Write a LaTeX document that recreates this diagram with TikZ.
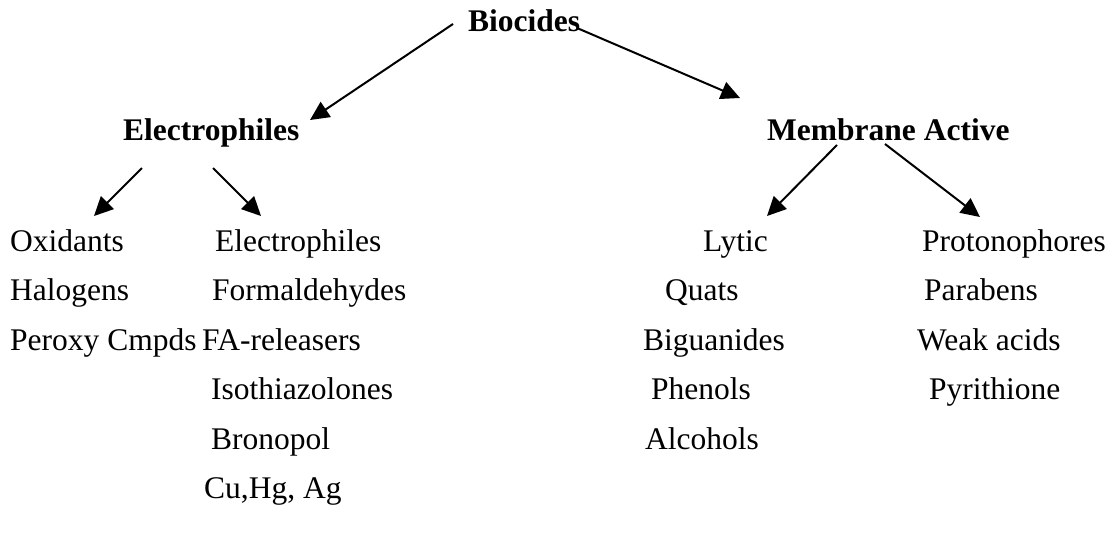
\documentclass[tikz,border=0pt]{standalone}
\usepackage{fontspec}
\setmainfont{Liberation Serif}
\usetikzlibrary{arrows.meta}
\begin{document}
\begin{tikzpicture}[x=1pt,y=-1pt,
  lbl/.style={anchor=base west,inner sep=0pt,font=\fontsize{31.5}{36}\selectfont},
  hdr/.style={anchor=base west,inner sep=0pt,font=\fontsize{31.5}{36}\selectfont\bfseries},
  arr/.style={line width=2pt,-{Triangle[length=19pt,width=18pt]}}]
\useasboundingbox (0,0) rectangle (1114,533);
% headers
\node[hdr] (bio) at (468,31) {Biocides};
\node[hdr] (el) at (123,140) {Electrophiles};
\node[hdr] (ma) at (767,140) {Membrane Active};
% column 1
\node[lbl] (ox) at (10,251) {Oxidants};
\node[lbl] (hal) at (10,300) {Halogens};
\node[lbl] (per) at (10,350) {Peroxy Cmpds};
% column 2
\node[lbl] (el2) at (215,251) {Electrophiles};
\node[lbl] (form) at (212,300) {Formaldehydes};
\node[lbl] (far) at (202,350) {FA-releasers};
\node[lbl] (iso) at (211,399) {Isothiazolones};
\node[lbl] (bro) at (211,449) {Bronopol};
\node[lbl] (cu) at (204,498) {Cu,Hg, Ag};
% column 3
\node[lbl] (ly) at (703,251) {Lytic};
\node[lbl] (qu) at (665,300) {Quats};
\node[lbl] (big) at (643,350) {Biguanides};
\node[lbl] (phe) at (651,399) {Phenols};
\node[lbl] (alc) at (645,449) {Alcohols};
% column 4
\node[lbl] (pro) at (922,251) {Protonophores};
\node[lbl] (par) at (924,300) {Parabens};
\node[lbl] (wea) at (917,350) {Weak acids};
\node[lbl] (pyr) at (929,399) {Pyrithione};
% arrow end points
\coordinate (s1) at (453,24);  \coordinate (t1) at (310,120);
\coordinate (s2) at (577,28);  \coordinate (t2) at (740,98);
\coordinate (s3) at (142,168); \coordinate (t3) at (94,216);
\coordinate (s4) at (213,168); \coordinate (t4) at (261,216);
\coordinate (s5) at (837,145); \coordinate (t5) at (767,216);
\coordinate (s6) at (885,144); \coordinate (t6) at (980,217);
\draw[arr] (s1) -- (t1);
\draw[arr] (s2) -- (t2);
\draw[arr] (s3) -- (t3);
\draw[arr] (s4) -- (t4);
\draw[arr] (s5) -- (t5);
\draw[arr] (s6) -- (t6);
\end{tikzpicture}
\end{document}
